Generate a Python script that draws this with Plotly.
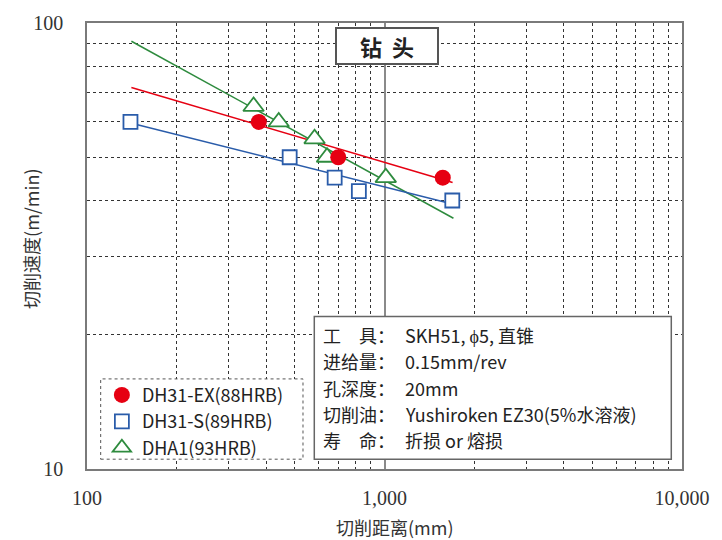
import plotly.graph_objects as go

# Cutting distance (mm) vs. cutting speed (m/min), measured points
ex_dist = [378, 699, 1570]
ex_speed = [60, 50, 45]

s_dist = [140, 480, 680, 820, 1690]
s_speed = [60, 50, 45, 42, 40]

a1_dist = [363, 441, 582, 641, 1010]
a1_speed = [65, 60, 55, 50, 45]

# Fitted life lines (end points of each straight line on the log-log plot)
ex_fit_dist = [141, 1694]
ex_fit_speed = [71.7, 43.9]
s_fit_dist = [140, 1690]
s_fit_speed = [59.7, 39.3]
a1_fit_dist = [141, 1705]
a1_fit_speed = [91.0, 36.5]

names = ["DH31-EX(88HRB)", "DH31-S(89HRB)", "DHA1(93HRB)"]
colors = ["#e60012", "#2a5caa", "#2e8b3e"]

x_ticks = [100, 1000, 10000]
x_tick_text = ["100", "1,000", "10,000"]
y_ticks = [10, 100]
y_tick_text = ["10", "100"]
x_minor = [200, 300, 400, 500, 600, 700, 800, 900,
           2000, 3000, 4000, 5000, 6000, 7000, 8000, 9000]
y_minor = [20, 30, 40, 50, 60, 70, 80, 90]

cond_labels = ["工　具：", "进给量：", "孔深度：", "切削油：", "寿　命："]
cond_values = ["SKH51, ϕ5, 直锥", "0.15mm/rev", "20mm",
               "Yushiroken EZ30(5%水溶液)", "折损 or 熔损"]

CJK = "Noto Sans CJK SC"
SERIF = "Liberation Serif"

fig = go.Figure()

# fitted lines
for fx, fy, c in [(a1_fit_dist, a1_fit_speed, colors[2]),
                  (ex_fit_dist, ex_fit_speed, colors[0]),
                  (s_fit_dist, s_fit_speed, colors[1])]:
    fig.add_trace(go.Scatter(x=fx, y=fy, mode="lines",
                             line=dict(color=c, width=1.5),
                             showlegend=False, hoverinfo="skip"))

# measured points
fig.add_trace(go.Scatter(
    x=s_dist, y=s_speed, mode="markers", name=names[1], legendrank=2,
    marker=dict(symbol="square", size=14, color="white",
                line=dict(color=colors[1], width=1.8))))
fig.add_trace(go.Scatter(
    x=a1_dist, y=a1_speed, mode="markers", name=names[2], legendrank=3,
    marker=dict(symbol="triangle-up", size=18, color="white",
                line=dict(color=colors[2], width=1.8))))
fig.add_trace(go.Scatter(
    x=ex_dist, y=ex_speed, mode="markers", name=names[0], legendrank=1,
    marker=dict(symbol="circle", size=16, color=colors[0],
                line=dict(color=colors[0], width=0))))

grid_minor_x = dict(tickvals=x_minor, showgrid=True, gridcolor="#333333",
                    griddash="3px,3px", gridwidth=1, ticks="")
grid_minor_y = dict(tickvals=y_minor, showgrid=True, gridcolor="#333333",
                    griddash="3px,3px", gridwidth=1, ticks="")

fig.update_xaxes(type="log", range=[2, 4], tickvals=x_ticks, ticktext=x_tick_text,
                 showgrid=True, gridcolor="#8a8a8a", gridwidth=1.5,
                 showline=True, mirror=True, linecolor="#7a7a7a", linewidth=1.5,
                 ticks="", ticklabelstandoff=10, minor=grid_minor_x,
                 tickfont=dict(family=SERIF, size=20, color="#333333"),
                 zeroline=False)
fig.update_yaxes(type="log", range=[1, 2], tickvals=y_ticks, ticktext=y_tick_text,
                 showgrid=True, gridcolor="#8a8a8a", gridwidth=1.5,
                 showline=True, mirror=True, linecolor="#7a7a7a", linewidth=1.5,
                 ticks="", ticklabelstandoff=18, minor=grid_minor_y,
                 tickfont=dict(family=SERIF, size=20, color="#333333"),
                 zeroline=False)

shapes = [
    # legend frame
    dict(type="rect", xref="paper", yref="paper",
         x0=0.023, x1=0.363, y0=0.022, y1=0.202,
         line=dict(color="#555555", width=1, dash="dot"),
         fillcolor="white", layer="above"),
    # test-condition frame
    dict(type="rect", xref="paper", yref="paper",
         x0=0.382, x1=0.982, y0=0.022, y1=0.342,
         line=dict(color="#666666", width=1.5),
         fillcolor="white", layer="above"),
]

annotations = [
    dict(text="<b>钻  头</b>", xref="paper", yref="paper", x=0.505, y=0.949,
         xanchor="center", yanchor="middle",
         showarrow=False, font=dict(family=CJK, size=22, color="#222222"),
         bgcolor="white", bordercolor="#555555", borderwidth=2,
         width=98, height=32, borderpad=1),
    dict(text="切削速度(m/min)", xref="paper", yref="paper",
         x=-0.094, y=0.516, xanchor="center", yanchor="middle",
         textangle=-90, showarrow=False,
         font=dict(family=CJK, size=18, color="#333333")),
    dict(text="切削距离(mm)", xref="paper", yref="paper",
         x=0.517, y=-0.131, xanchor="center", yanchor="middle", showarrow=False,
         font=dict(family=CJK, size=18, color="#333333")),
]

# test conditions: label column and value column
row_y = [0.300, 0.2411, 0.1822, 0.1233, 0.0644]
for lab, val, yy in zip(cond_labels, cond_values, row_y):
    annotations.append(dict(text=lab, xref="paper", yref="paper", x=0.393, y=yy,
                            xanchor="left", yanchor="middle", showarrow=False,
                            font=dict(family=CJK, size=18, color="#222222")))
    annotations.append(dict(text=val, xref="paper", yref="paper", x=0.531, y=yy,
                            xanchor="left", yanchor="middle", showarrow=False,
                            font=dict(family=CJK, size=18, color="#222222")))

fig.update_layout(
    width=722, height=540,
    margin=dict(l=87, r=33, t=19, b=71),
    paper_bgcolor="white", plot_bgcolor="white",
    shapes=shapes, annotations=annotations,
    legend=dict(x=0.025, y=0.207, xanchor="left", yanchor="top",
                bgcolor="rgba(0,0,0,0)", borderwidth=0,
                font=dict(family=CJK, size=18, color="#222222"),
                tracegroupgap=0, itemwidth=30),
    showlegend=True,
)

fig.write_html("out.html")
